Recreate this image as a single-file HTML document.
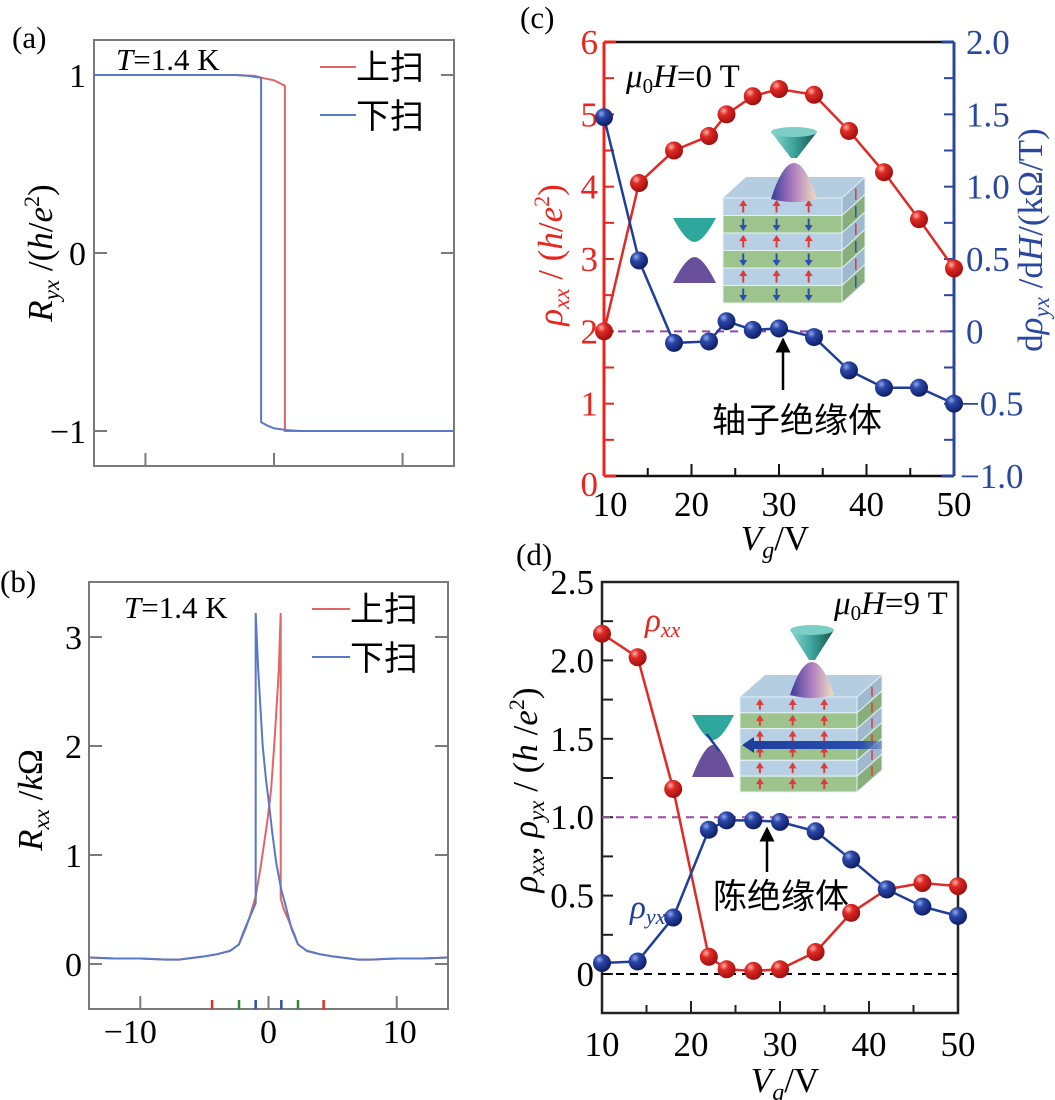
<!DOCTYPE html>
<html><head><meta charset="utf-8"><style>
body{margin:0;background:#fff}
svg{display:block}
svg text{font-family:"Liberation Serif","Noto Serif CJK SC",serif}
svg text.cj{font-family:"Liberation Sans","Noto Sans CJK SC",sans-serif}
</style></head><body>
<svg id="fig" width="1055" height="1100" viewBox="0 0 1055 1100" xmlns="http://www.w3.org/2000/svg">
<defs>
<radialGradient id="gr" cx="35%" cy="30%" r="70%"><stop offset="0" stop-color="#ffb0a8"/><stop offset="0.35" stop-color="#e02a25"/><stop offset="1" stop-color="#a01010"/></radialGradient>
<radialGradient id="gb" cx="35%" cy="30%" r="70%"><stop offset="0" stop-color="#8fa8e8"/><stop offset="0.35" stop-color="#2a47a8"/><stop offset="1" stop-color="#101f66"/></radialGradient>
<linearGradient id="cone1" x1="0" x2="1"><stop offset="0" stop-color="#8fd8d0"/><stop offset="0.5" stop-color="#3aa49c"/><stop offset="1" stop-color="#1a4f4a"/></linearGradient>
<linearGradient id="cone2" x1="0" x2="1"><stop offset="0" stop-color="#3a3a9a"/><stop offset="0.5" stop-color="#b080c0"/><stop offset="1" stop-color="#f0e0c0"/></linearGradient>
<linearGradient id="flow" x1="0" x2="1"><stop offset="0" stop-color="#1f3e9a"/><stop offset="0.85" stop-color="#2a4fb0"/><stop offset="1" stop-color="#2a4fb0" stop-opacity="0.3"/></linearGradient>
<marker id="ah" markerWidth="6" markerHeight="6" refX="3" refY="3" orient="auto"><path d="M0,0 L6,3 L0,6 z" fill="#000"/></marker>
</defs>
<g id="pa"></g>
<g id="pb"></g>
<g id="pc"></g>
<g id="pd"></g>
</svg>
<script>
// ---- panel (a) data ----
const aUpX = [-14,-3,-1.5,-1.0,0,0.85,0.85,2,14];
const aUpY = [1,1,0.995,0.985,0.97,0.94,-1,-1,-1];
const aDnX = [14,2,1,0,-0.5,-1.0,-1.0,-2,-3,-14];
const aDnY = [-1,-1,-0.995,-0.985,-0.97,-0.95,0.985,0.995,1,1];
const aYTicks = [1,0,-1];
const aYLabels = ["1","0","\u22121"];
const abXTicks = [-10,0,10];
// ---- panel (b) data ----
const bUpX = [-14,-12,-10,-8,-7,-5,-4,-3,-2.3,-1.8,-1.5,-1.0,-0.6,-0.1,0.2,0.5,0.8,0.95,0.95,1.2,1.5,2,2.3,3,4,5,7,8,10,12,14];
const bUpY = [0.06,0.05,0.05,0.04,0.04,0.07,0.09,0.12,0.18,0.32,0.42,0.62,0.9,1.3,1.6,2.1,2.7,3.22,0.6,0.5,0.42,0.28,0.18,0.12,0.09,0.07,0.04,0.04,0.05,0.05,0.06];
const bDnX = [14,12,10,8,7,5,4,3,2.3,1.8,1.3,1.0,0.6,0.3,0.07,-0.2,-0.45,-0.8,-1.0,-1.0,-1.2,-1.5,-2,-2.3,-3,-4,-5,-7,-8,-10,-12,-14];
const bDnY = [0.06,0.05,0.05,0.04,0.04,0.07,0.09,0.12,0.18,0.32,0.55,0.68,0.93,1.2,1.44,1.7,2.0,2.7,3.22,0.56,0.5,0.42,0.28,0.18,0.12,0.09,0.07,0.04,0.04,0.05,0.05,0.06];
const bYTicks = [0,1,2,3];
const bMarkX = [-4.4,-2.3,-1.0,1.0,2.3,4.3];
const bMarkC = ["#d9302a","#2f8a3a","#2a4fb0","#2a4fb0","#2f8a3a","#d9302a"];
// ---- panel (c) data ----
const cX = [10,14,18,22,24,27,30,34,38,42,46,50];
const cRho = [2.0,4.05,4.5,4.7,5.0,5.25,5.35,5.27,4.77,4.2,3.55,2.87];
const cD = [1.48,0.49,-0.08,-0.07,0.07,0.01,0.02,-0.04,-0.27,-0.39,-0.39,-0.5];
const cLeftLabels = ["0","1","2","3","4","5","6"];
const cRightTicks = [-1,-0.5,0,0.5,1,1.5,2];
const cRightLabels = ["\u22121.0","\u22120.5","0","0.5","1.0","1.5","2.0"];
const cdXLabels = [10,20,30,40,50];
// ---- panel (d) data ----
const dX = [10,14,18,22,24,27,30,34,38,42,46,50];
const dXX = [2.17,2.02,1.18,0.11,0.03,0.02,0.03,0.14,0.39,0.54,0.58,0.56];
const dYX = [0.07,0.08,0.36,0.92,0.98,0.98,0.97,0.91,0.73,0.54,0.43,0.37];
const dYTicks = [0,0.5,1,1.5,2,2.5];
const dYLabels = ["0","0.5","1.0","1.5","2.0","2.5"];

const NS="http://www.w3.org/2000/svg";
function mk(parent,tag,attrs,txt){const e=document.createElementNS(NS,tag);for(const k in attrs)e.setAttribute(k,attrs[k]);if(txt!==undefined)e.textContent=txt;parent.appendChild(e);return e;}
function lin(d0,d1,p0,p1){return v=>p0+(v-d0)*(p1-p0)/(d1-d0);}

// ===== Panel A =====
(function(){
const g=document.getElementById('pa');
const L=94,R=454,T=40,B=466;
const x=lin(-14,14,L,R), y=lin(-1,1,431,75);
let t=mk(g,'text',{x:12,y:48,'font-size':31},'(a)');

let r=mk(g,'rect',{x:L,y:T,width:R-L,height:B-T,fill:'none',stroke:'#7a7a7a','stroke-width':2});

aYTicks.forEach((v,i)=>{
 mk(g,'line',{x1:L,x2:L+13,y1:y(v),y2:y(v),stroke:'#7a7a7a','stroke-width':2});
 mk(g,'line',{x1:R,x2:R-13,y1:y(v),y2:y(v),stroke:'#7a7a7a','stroke-width':2});
 const tl=mk(g,'text',{x:86,y:y(v)+12,'font-size':34,'text-anchor':'end'},aYLabels[i]);
 
});
abXTicks.forEach(v=>{mk(g,'line',{x1:x(v),x2:x(v),y1:B,y2:B-13,stroke:'#7a7a7a','stroke-width':2});});
function path(xs,ys,c,name){const p=mk(g,'path',{d:xs.map((v,i)=>(i?'L':'M')+x(v).toFixed(1)+','+y(ys[i]).toFixed(1)).join(''),fill:'none',stroke:c,'stroke-width':2});
 }
path(aUpX,aUpY,'#e06666','up-sweep-line');
path(aDnX,aDnY,'#5878c8','down-sweep-line');
t=mk(g,'text',{x:116,y:70,'font-size':31});t.innerHTML='<tspan font-style="italic">T</tspan>=1.4 K';

let l1=mk(g,'line',{x1:320,x2:356,y1:67,y2:67,stroke:'#e06666','stroke-width':2});

t=mk(g,'text',{x:356,y:79,'font-size':34,class:'cj'},'上扫');
l1=mk(g,'line',{x1:320,x2:356,y1:115,y2:115,stroke:'#5878c8','stroke-width':2});

t=mk(g,'text',{x:356,y:128,'font-size':34,class:'cj'},'下扫');
t=mk(g,'text',{x:0,y:0,'font-size':35,'text-anchor':'middle',transform:'translate(52,253) rotate(-90)'});
t.innerHTML='<tspan font-style="italic">R</tspan><tspan font-style="italic" font-size="23" dy="7">yx</tspan><tspan dy="-7"> /(</tspan><tspan font-style="italic">h</tspan>/<tspan font-style="italic">e</tspan><tspan font-size="22" dy="-13">2</tspan><tspan dy="13">)</tspan>';

})();

// ===== Panel B =====
(function(){
const g=document.getElementById('pb');
const L=89,R=448,T=582,B=1009;
const x=lin(-14,14,L,R), y=lin(0,3,964,637);
let t=mk(g,'text',{x:0,y:592,'font-size':31},'(b)');
let r=mk(g,'rect',{x:L,y:T,width:R-L,height:B-T,fill:'none',stroke:'#7a7a7a','stroke-width':2});

bYTicks.forEach(v=>{
 mk(g,'line',{x1:L,x2:L+13,y1:y(v),y2:y(v),stroke:'#7a7a7a','stroke-width':2});
 mk(g,'line',{x1:R,x2:R-13,y1:y(v),y2:y(v),stroke:'#7a7a7a','stroke-width':2});
 const tl=mk(g,'text',{x:82,y:y(v)+12,'font-size':34,'text-anchor':'end'},String(v));
 
});
abXTicks.forEach(v=>{mk(g,'line',{x1:x(v),x2:x(v),y1:B,y2:B-13,stroke:'#7a7a7a','stroke-width':2});
 const tl=mk(g,'text',{x:x(v)-(v<0?10:(v>0?-3:0)),y:1043,'font-size':34,'text-anchor':'middle'},v<0?'\u2212'+(-v):String(v));
 });
bMarkX.forEach((v,i)=>{const m=mk(g,'line',{x1:x(v),x2:x(v),y1:B,y2:B-9,stroke:bMarkC[i],'stroke-width':2.5});
 });
function path(xs,ys,c,name){const p=mk(g,'path',{d:xs.map((v,i)=>(i?'L':'M')+x(v).toFixed(1)+','+y(ys[i]).toFixed(1)).join(''),fill:'none',stroke:c,'stroke-width':2});
 }
path(bUpX,bUpY,'#e06666','up-sweep-line');
path(bDnX,bDnY,'#5878c8','down-sweep-line');
t=mk(g,'text',{x:124,y:618,'font-size':31});t.innerHTML='<tspan font-style="italic">T</tspan>=1.4 K';

let l1=mk(g,'line',{x1:312,x2:350,y1:609,y2:609,stroke:'#e06666','stroke-width':2});

t=mk(g,'text',{x:350,y:621,'font-size':34,class:'cj'},'上扫');
l1=mk(g,'line',{x1:312,x2:350,y1:657,y2:657,stroke:'#5878c8','stroke-width':2});

t=mk(g,'text',{x:350,y:670,'font-size':34,class:'cj'},'下扫');
t=mk(g,'text',{x:0,y:0,'font-size':35,'text-anchor':'middle',transform:'translate(42,800) rotate(-90)'});
t.innerHTML='<tspan font-style="italic">R</tspan><tspan font-style="italic" font-size="23" dy="7">xx</tspan><tspan dy="-7"> /</tspan><tspan font-style="italic">k</tspan>Ω';

})();

function ball(g,cx,cy,grad,name){const c=mk(g,'circle',{cx:cx,cy:cy,r:9,fill:'url(#'+grad+')'});
 }

function inset(g,o){
 const gi=mk(g,'g',{});
 const dx=o.sr-o.fr, dy=o.tf-o.tb, n=6, h=(o.bot-o.tf)/n;
 mk(gi,'polygon',{points:`${o.fl},${o.tf} ${o.fl+dx},${o.tb} ${o.sr},${o.tb} ${o.fr},${o.tf}`,fill:'#b4cde0'});
 for(let i=0;i<n;i++){
  const y0=o.tf+i*h, col=i%2?'#9ec48e':'#b8d0e4', scol=i%2?'#88ae7c':'#9fb9cf';
  mk(gi,'rect',{x:o.fl,y:y0,width:o.fr-o.fl,height:h,fill:col,stroke:'#e8f0f4','stroke-width':1});
  mk(gi,'polygon',{points:`${o.fr},${y0} ${o.sr},${y0-dy} ${o.sr},${y0-dy+h} ${o.fr},${y0+h}`,fill:scol,stroke:'#e8f0f4','stroke-width':1});
  const up=o.allUp||i%2===0;
  [0.17,0.45,0.72].forEach(f=>{const ax=o.fl+f*(o.fr-o.fl);const c=up?'#e03a3a':'#2a4fb0';
   const yA=y0+3, yB=y0+h-3;
   mk(gi,'line',{x1:ax,x2:ax,y1:yA,y2:yB,stroke:c,'stroke-width':2});
   mk(gi,'path',{d:up?`M${ax-4},${yA+5}L${ax},${yA-1}L${ax+4},${yA+5}z`:`M${ax-4},${yB-5}L${ax},${yB+1}L${ax+4},${yB-5}z`,fill:c});});
  const sx=o.fr+dx*0.6;mk(gi,'line',{x1:sx,x2:sx,y1:y0-dy*0.6+3,y2:y0-dy*0.6+h-3,stroke:up?'#e03a3a':'#2a4fb0','stroke-width':1.5});
 }
 if(o.flow){mk(gi,'rect',{x:o.fl+8,y:o.flow-4,width:o.sr-o.fl-8,height:8,fill:'url(#flow)'});
  mk(gi,'path',{d:`M${o.fl+14},${o.flow-8}L${o.fl+2},${o.flow}L${o.fl+14},${o.flow+8}z`,fill:'#1f3e9a'});}
 const hw=o.cw/2;
 mk(gi,'path',{d:`M${o.cx-hw},${o.uy1} Q${o.cx},${o.uy1+8} ${o.cx+hw},${o.uy1} L${o.cx+3},${o.uy2} L${o.cx-3},${o.uy2}z`,fill:'url(#cone1)'});
 mk(gi,'ellipse',{cx:o.cx,cy:o.uy1,rx:hw,ry:5,fill:'#7ccfc6'});
 mk(gi,'path',{d:`M${o.cx-hw},${o.ly2} Q${o.cx-hw*0.5},${o.ly1} ${o.cx},${o.ly1} Q${o.cx+hw*0.5},${o.ly1} ${o.cx+hw},${o.ly2} Q${o.cx},${o.ly2+6} ${o.cx-hw},${o.ly2}z`,fill:'url(#cone2)'});
 const lc=(o.lx1+o.lx2)/2, lw=(o.lx2-o.lx1)/2;
 mk(gi,'path',{d:`M${o.lx1},${o.a1}L${o.lx2},${o.a1}Q${lc+lw*0.4},${o.a2} ${lc},${o.a2}Q${lc-lw*0.4},${o.a2} ${o.lx1},${o.a1}z`,fill:'#2ea89c'});
 mk(gi,'path',{d:`M${o.lx1},${o.b2}L${o.lx2},${o.b2}Q${lc+lw*0.4},${o.b1} ${lc},${o.b1}Q${lc-lw*0.4},${o.b1} ${o.lx1},${o.b2}z`,fill:'#6a4f9a'});
 if(o.dirac){mk(gi,'line',{x1:lc-lw*0.3,y1:o.a2-6,x2:lc+lw*0.3,y2:o.b1+6,stroke:'#1f3e9a','stroke-width':2.5});}
}

// ===== Panel C =====
(function(){
const g=document.getElementById('pc');
const L=604,R=954,T=42,B=476;
const x=lin(10,50,L,R), yl=lin(0,6,B,T), yr=lin(-1,2,B,T);
let t=mk(g,'text',{x:520,y:28,'font-size':31},'(c)');
let e=mk(g,'line',{x1:L,x2:R,y1:T,y2:T,stroke:'#111','stroke-width':2.5});
e=mk(g,'line',{x1:L,x2:R,y1:B,y2:B,stroke:'#111','stroke-width':2.5});
e=mk(g,'line',{x1:L,x2:L,y1:T,y2:B,stroke:'#e8261f','stroke-width':3});
e=mk(g,'line',{x1:R,x2:R,y1:T,y2:B,stroke:'#2a47a0','stroke-width':3});
mk(g,'line',{x1:L,x2:L+12,y1:T,y2:T,stroke:'#e8261f','stroke-width':3});
mk(g,'line',{x1:L,x2:L+12,y1:B,y2:B,stroke:'#e8261f','stroke-width':3});
mk(g,'line',{x1:R-12,x2:R,y1:T,y2:T,stroke:'#2a47a0','stroke-width':3});
mk(g,'line',{x1:R-12,x2:R,y1:B,y2:B,stroke:'#2a47a0','stroke-width':3});
for(let v=0.5;v<6;v+=0.5)mk(g,'line',{x1:L,x2:L+10,y1:yl(v),y2:yl(v),stroke:'#e8261f','stroke-width':2});
for(let v=-0.75;v<2;v+=0.25)mk(g,'line',{x1:R,x2:R-10,y1:yr(v),y2:yr(v),stroke:'#2a47a0','stroke-width':2});
for(let v=15;v<50;v+=5)mk(g,'line',{x1:x(v),x2:x(v),y1:B,y2:B-(v%10?8:12),stroke:'#111','stroke-width':2});
cLeftLabels.forEach((s,i)=>{const tl=mk(g,'text',{x:598,y:yl(i)+12+(i===0?8:0),'font-size':35,'text-anchor':'end',fill:'#e8261f'},s);
 });
cRightTicks.forEach((v,i)=>{const tl=mk(g,'text',{x:966,y:yr(v)+12,'font-size':35,fill:'#2a47a0','text-anchor':'start',dx:cRightLabels[i][0]==='\u2212'?-6:0},cRightLabels[i]);
 });
cdXLabels.forEach(v=>{const tl=mk(g,'text',{x:x(v)+(v===10?6:0),y:516,'font-size':35,'text-anchor':'middle'},String(v));
 });
e=mk(g,'line',{x1:L,x2:R,y1:yr(0),y2:yr(0),stroke:'#9a48a8','stroke-width':2,'stroke-dasharray':'8,6'});
inset(g,{fl:723,fr:842,sr:865,tb:177,tf:198,bot:303,cx:794,cw:46,uy1:132,uy2:158,ly1:163,ly2:199,lx1:673,lx2:716,a1:218,a2:242,b1:257,b2:283,allUp:false});
e=mk(g,'path',{d:cX.map((v,i)=>(i?'L':'M')+x(v)+','+yl(cRho[i])).join(''),fill:'none',stroke:'#e02a25','stroke-width':2.5});

e=mk(g,'path',{d:cX.map((v,i)=>(i?'L':'M')+x(v)+','+yr(cD[i])).join(''),fill:'none',stroke:'#1f3e9a','stroke-width':2.5});

cX.forEach((v,i)=>ball(g,x(v),yl(cRho[i]),'gr','rho-xx-point'));
cX.forEach((v,i)=>ball(g,x(v),yr(cD[i]),'gb','drho-yx-point'));
e=mk(g,'line',{x1:783,x2:783,y1:390,y2:345,stroke:'#000','stroke-width':2.5,'marker-end':'url(#ah)'});
t=mk(g,'text',{x:797,y:432,'font-size':34,'text-anchor':'middle',class:'cj'},'轴子绝缘体');
t=mk(g,'text',{x:626,y:87,'font-size':33});t.innerHTML='<tspan font-style="italic">μ</tspan><tspan font-size="21" dy="6">0</tspan><tspan dy="-6" font-style="italic">H</tspan>=0 T';

t=mk(g,'text',{x:0,y:0,'font-size':35,'text-anchor':'middle',fill:'#e8261f',transform:'translate(562,255) rotate(-90)'});
t.innerHTML='<tspan font-style="italic">ρ</tspan><tspan font-style="italic" font-size="23" dy="7">xx</tspan><tspan dy="-7"> / (</tspan><tspan font-style="italic">h</tspan>/<tspan font-style="italic">e</tspan><tspan font-size="22" dy="-13">2</tspan><tspan dy="13">)</tspan>';

t=mk(g,'text',{x:0,y:0,'font-size':35,'text-anchor':'middle',fill:'#2a47a0',transform:'translate(1042,240) rotate(-90)'});
t.innerHTML='d<tspan font-style="italic">ρ</tspan><tspan font-style="italic" font-size="23" dy="7">yx</tspan><tspan dy="-7"> /d</tspan><tspan font-style="italic">H</tspan>/(kΩ/T)';

t=mk(g,'text',{x:775,y:550,'font-size':35,'text-anchor':'middle'});t.innerHTML='<tspan font-style="italic">V</tspan><tspan font-style="italic" font-size="24" dy="8">g</tspan><tspan dy="-8">/V</tspan>';

})();

// ===== Panel D =====
(function(){
const g=document.getElementById('pd');
const L=602,R=958,T=582,B=1013;
const x=lin(10,50,L,R), y=lin(0,2.5,974,T);
let t=mk(g,'text',{x:516,y:565,'font-size':31},'(d)');
let e=mk(g,'rect',{x:L,y:T,width:R-L,height:B-T,fill:'none',stroke:'#222','stroke-width':2.5});
for(let v=0;v<2.5;v+=0.25)mk(g,'line',{x1:L,x2:L+11,y1:y(v),y2:y(v),stroke:'#222','stroke-width':2});
for(let v=15;v<50;v+=5)mk(g,'line',{x1:x(v),x2:x(v),y1:B,y2:B-(v%10?8:12),stroke:'#222','stroke-width':2});
dYTicks.forEach((v,i)=>{const tl=mk(g,'text',{x:594,y:y(v)+12,'font-size':35,'text-anchor':'end'},dYLabels[i]);
 });
cdXLabels.forEach(v=>{const tl=mk(g,'text',{x:x(v),y:1056,'font-size':35,'text-anchor':'middle'},String(v));
 });
e=mk(g,'line',{x1:L,x2:R,y1:y(1),y2:y(1),stroke:'#9a48a8','stroke-width':2,'stroke-dasharray':'8,6'});
e=mk(g,'line',{x1:L,x2:R,y1:y(0),y2:y(0),stroke:'#000','stroke-width':2,'stroke-dasharray':'8,6'});
inset(g,{fl:740,fr:857,sr:882,tb:675,tf:697,bot:792,cx:812,cw:44,uy1:630,uy2:660,ly1:662,ly2:695,lx1:692,lx2:734,a1:715,a2:740,b1:745,b2:777,allUp:true,flow:745,dirac:true});
e=mk(g,'path',{d:dX.map((v,i)=>(i?'L':'M')+x(v)+','+y(dXX[i])).join(''),fill:'none',stroke:'#e02a25','stroke-width':2.5});

e=mk(g,'path',{d:dX.map((v,i)=>(i?'L':'M')+x(v)+','+y(dYX[i])).join(''),fill:'none',stroke:'#1f3e9a','stroke-width':2.5});

dX.forEach((v,i)=>ball(g,x(v),y(dXX[i]),'gr','rho-xx-point'));
dX.forEach((v,i)=>ball(g,x(v),y(dYX[i]),'gb','rho-yx-point'));
e=mk(g,'line',{x1:767,x2:767,y1:872,y2:834,stroke:'#000','stroke-width':2.5,'marker-end':'url(#ah)'});
t=mk(g,'text',{x:713,y:908,'font-size':34,class:'cj'},'陈绝缘体');
t=mk(g,'text',{x:834,y:614,'font-size':33});t.innerHTML='<tspan font-style="italic">μ</tspan><tspan font-size="21" dy="6">0</tspan><tspan dy="-6" font-style="italic">H</tspan>=9 T';

t=mk(g,'text',{x:645,y:631,'font-size':33,fill:'#e8261f'});t.innerHTML='<tspan font-style="italic">ρ</tspan><tspan font-style="italic" font-size="22" dy="6">xx</tspan>';

t=mk(g,'text',{x:630,y:918,'font-size':33,fill:'#1f3e9a'});t.innerHTML='<tspan font-style="italic">ρ</tspan><tspan font-style="italic" font-size="22" dy="6">yx</tspan>';

t=mk(g,'text',{x:0,y:0,'font-size':35,'text-anchor':'middle',transform:'translate(537,790) rotate(-90)'});
t.innerHTML='<tspan font-style="italic">ρ</tspan><tspan font-style="italic" font-size="23" dy="7">xx</tspan><tspan dy="-7">, </tspan><tspan font-style="italic">ρ</tspan><tspan font-style="italic" font-size="23" dy="7">yx</tspan><tspan dy="-7"> / (</tspan><tspan font-style="italic">h</tspan> /<tspan font-style="italic">e</tspan><tspan font-size="22" dy="-13">2</tspan><tspan dy="13">)</tspan>';

t=mk(g,'text',{x:785,y:1092,'font-size':35,'text-anchor':'middle'});t.innerHTML='<tspan font-style="italic">V</tspan><tspan font-style="italic" font-size="24" dy="8">g</tspan><tspan dy="-8">/V</tspan>';

})();
</script>
</body></html>
